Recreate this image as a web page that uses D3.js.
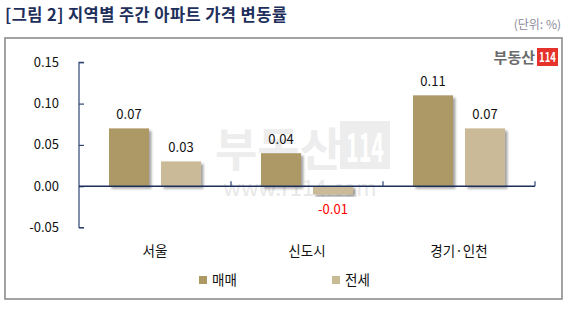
<!DOCTYPE html>
<html>
<head>
<meta charset="utf-8">
<script src="https://cdn.jsdelivr.net/npm/d3@7"></script>
<style>
  body { margin: 0; background: #fff; }
  svg { display: block; font-family: "Noto Sans CJK KR", "Noto Sans", sans-serif; }
</style>
</head>
<body>
<svg id="chart"></svg>
<script>
// data
var regions = ["서울", "신도시", "경기·인천"]
var seriesNames = ["매매", "전세"]
var saleValues = [0.07, 0.04, 0.11]
var rentValues = [0.03, -0.01, 0.07]
var yTicks = [-0.05, 0, 0.05, 0.10, 0.15]
var colors = ["#AD9966", "#CABA98"]

var width = 567, height = 315

// plain hyphen for negatives, like the original
var fmt = function(v) { return d3.format(".2f")(v).replace("\u2212", "-") }

var svg = d3.select("#chart")
  .attr("width", width)
  .attr("height", height)

// shadow for bars
var defs = svg.append("defs")
var filter = defs.append("filter").attr("id", "shadow")
  .attr("x", "-20%").attr("y", "-20%").attr("width", "150%").attr("height", "150%")
filter.append("feDropShadow")
  .attr("dx", 2.5).attr("dy", 2.5).attr("stdDeviation", 1.2)
  .attr("flood-color", "#000").attr("flood-opacity", 0.35)

// title
svg.append("text")
  .attr("x", 5).attr("y", 21)
  .attr("font-size", 16.5).attr("font-weight", "bold")
  .attr("fill", "#1F2F5C")
  .attr("textLength", 282).attr("lengthAdjust", "spacing")
  .text("[그림 2] 지역별 주간 아파트 가격 변동률")

svg.append("text")
  .attr("x", 561).attr("y", 29)
  .attr("text-anchor", "end")
  .attr("font-size", 12).attr("fill", "#8a8a9a")
  .text("(단위: %)")

// frame
svg.append("rect")
  .attr("x", 5).attr("y", 38).attr("width", 557).attr("height", 261)
  .attr("fill", "none").attr("stroke", "#8c8c8c").attr("stroke-width", 1.6)

// logo
svg.append("text")
  .attr("x", 535).attr("y", 63)
  .attr("text-anchor", "end")
  .attr("font-size", 15).attr("font-weight", "bold")
  .attr("fill", "#6b6b6b")
  .text("부동산")
svg.append("rect")
  .attr("x", 537).attr("y", 48).attr("width", 21).attr("height", 18)
  .attr("fill", "#E5322A")
svg.append("text")
  .attr("x", 547.5).attr("y", 62)
  .attr("text-anchor", "middle")
  .attr("font-size", 13).attr("font-weight", "bold")
  .attr("fill", "#fff")
  .attr("textLength", 17).attr("lengthAdjust", "spacingAndGlyphs")
  .text("114")

// scales
var x = d3.scaleBand().domain(regions).range([79, 535])
var y = d3.scaleLinear().domain([-0.05, 0.15]).range([227.5, 62.3])

// watermark
var wm = svg.append("g").attr("fill", "#ededed")
wm.append("text")
  .attr("x", 215).attr("y", 166)
  .attr("font-size", 46).attr("font-weight", "bold")
  .text("부동산")
wm.append("rect")
  .attr("x", 340).attr("y", 121).attr("width", 50).attr("height", 48)
wm.append("text")
  .attr("x", 365).attr("y", 162)
  .attr("text-anchor", "middle")
  .attr("font-size", 40).attr("font-weight", "bold")
  .attr("fill", "#fff")
  .attr("textLength", 38).attr("lengthAdjust", "spacingAndGlyphs")
  .text("114")
wm.append("text")
  .attr("x", 300).attr("y", 196)
  .attr("text-anchor", "middle")
  .attr("font-size", 22)
  .attr("fill", "#e8e8e8")
  .text("www.r114.com")

// y axis
var yAxis = d3.axisRight(y)
  .tickValues(yTicks)
  .tickSize(5)
  .tickFormat("")
var yg = svg.append("g").attr("transform", "translate(79,0)").call(yAxis)
yg.selectAll("path, line").attr("stroke", "#2E4573").attr("stroke-width", 1.2)
yg.select(".domain").attr("d", "M5," + y(0.15) + "H0V" + y(-0.05) + "H5")

svg.append("g").selectAll("text")
  .data(yTicks)
  .join("text")
  .attr("x", 59).attr("y", function(d) { return y(d) + 4.5 })
  .attr("text-anchor", "end")
  .attr("font-size", 13).attr("fill", "#111")
  .text(function(d) { return fmt(d) })

// bars
var rows = regions.map(function(r, i) { return {region: r, values: [saleValues[i], rentValues[i]]} })
var barW = 40, gap = 12
var bars = svg.append("g")
rows.forEach(function(row) {
  var x0 = x(row.region) + (x.bandwidth() - 2 * barW - gap) / 2
  row.values.forEach(function(v, j) {
    var bx = x0 + j * (barW + gap)
    bars.append("rect")
      .attr("x", bx)
      .attr("y", Math.min(y(v), y(0)))
      .attr("width", barW)
      .attr("height", Math.abs(y(v) - y(0)))
      .attr("fill", colors[j])
      .attr("filter", "url(#shadow)")
    bars.append("text")
      .attr("x", bx + barW / 2)
      .attr("y", v >= 0 ? y(v) - 9 : y(v) + 20)
      .attr("text-anchor", "middle")
      .attr("font-size", 13)
      .attr("fill", v < 0 ? "#FF0000" : "#111")
      .text(fmt(v))
  })
})

// x axis along zero
var xAxis = d3.axisTop(x).tickSize(4).tickFormat("")
var xg = svg.append("g").attr("transform", "translate(0," + y(0) + ")").call(xAxis)
xg.select(".domain").attr("d", "M79,0H535")
xg.selectAll(".tick").remove()
xg.selectAll("path").attr("stroke", "#1F2F5C").attr("stroke-width", 1.4)
svg.append("g").selectAll("line")
  .data(regions.slice(1).map(function(r) { return x(r) }).concat([535]))
  .join("line")
  .attr("x1", function(d) { return d }).attr("x2", function(d) { return d })
  .attr("y1", y(0)).attr("y2", y(0) - 5)
  .attr("stroke", "#2E4573").attr("stroke-width", 1.2)

// category labels
svg.append("g").selectAll("text")
  .data(regions)
  .join("text")
  .attr("x", function(d) { return x(d) + x.bandwidth() / 2 })
  .attr("y", 256)
  .attr("text-anchor", "middle")
  .attr("font-size", 13.5).attr("fill", "#111")
  .text(function(d) { return d })

// legend
var legendX = [199, 332]
var lg = svg.append("g")
seriesNames.forEach(function(s, i) {
  lg.append("rect")
    .attr("x", legendX[i]).attr("y", 276).attr("width", 8).attr("height", 8)
    .attr("fill", colors[i])
  lg.append("text")
    .attr("x", legendX[i] + 13).attr("y", 285)
    .attr("font-size", 13.5).attr("fill", "#111")
    .text(s)
})
</script>
</body>
</html>
